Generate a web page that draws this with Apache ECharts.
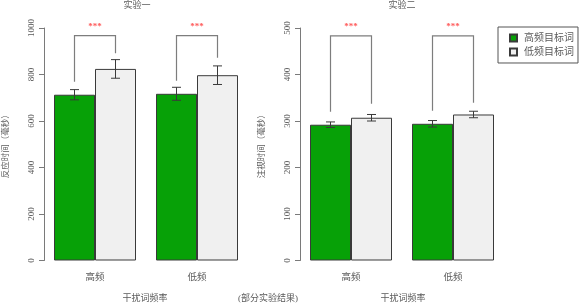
<!DOCTYPE html>
<html>
<head>
<meta charset="utf-8">
<script src="https://cdn.jsdelivr.net/npm/echarts@6/dist/echarts.min.js"></script>
<style>
  html, body { margin: 0; padding: 0; background: #fff; }
  #chart { width: 580px; height: 306px; }
</style>
</head>
<body>
<div id="chart"></div>
<script>
// Categories and tick settings
var categories = ['高频', '低频'];
var seriesNames = ['高频目标词', '低频目标词'];

// Experiment 1: response time (ms)
var exp1High = [713, 717];
var exp1Low = [824, 797];
var exp1HighErr = [22, 28];
var exp1LowErr = [40, 40];
var exp1BracketTop = [967, 967];
var exp1BracketLeftEnd = [769, 773];
var exp1BracketRightEnd = [891, 872];

// Experiment 2: fixation time (ms)
var exp2High = [292, 294];
var exp2Low = [307, 314];
var exp2HighErr = [6, 7];
var exp2LowErr = [7, 7];
var exp2BracketTop = [483, 483];
var exp2BracketLeftEnd = [320, 322];
var exp2BracketRightEnd = [337, 339];

var sigLabels = ['***', '***'];

var exp1Ticks = { min: 0, max: 1000, interval: 200 };
var exp2Ticks = { min: 0, max: 500, interval: 100 };

var GREEN = '#07a107';
var LIGHT = '#f0f0f0';
var BORDER = '#3a3a3a';
var TEXT = '#5a5a5a';
var AXIS = '#7a7a7a';
var FONT = "'Liberation Serif', 'Noto Sans CJK SC', serif";
var BAR_W = 41;

function errData(vals, errs) {
  return vals.map(function (v, i) { return [i, v - errs[i], v + errs[i]]; });
}
function bracketData(top, l, r) {
  return top.map(function (t, i) { return [i, t, l[i], r[i]]; });
}

// Error bar drawn at the bar centre; side = -1 for the left bar, +1 for the right bar
function errRenderer(side) {
  return function (params, api) {
    var i = api.value(0);
    var lo = api.coord([i, api.value(1)]);
    var hi = api.coord([i, api.value(2)]);
    var x = lo[0] + side * BAR_W / 2;
    var cap = 4.5;
    var st = { stroke: BORDER, lineWidth: 1 };
    return {
      type: 'group',
      children: [
        { type: 'line', shape: { x1: x, y1: lo[1], x2: x, y2: hi[1] }, style: st },
        { type: 'line', shape: { x1: x - cap, y1: lo[1], x2: x + cap, y2: lo[1] }, style: st },
        { type: 'line', shape: { x1: x - cap, y1: hi[1], x2: x + cap, y2: hi[1] }, style: st }
      ]
    };
  };
}

// Significance bracket spanning both bars of a group, with star label on top
function bracketRenderer(params, api) {
  var i = api.value(0);
  var top = api.coord([i, api.value(1)]);
  var le = api.coord([i, api.value(2)]);
  var re = api.coord([i, api.value(3)]);
  var xl = top[0] - BAR_W / 2;
  var xr = top[0] + BAR_W / 2;
  return {
    type: 'group',
    children: [
      {
        type: 'polyline',
        shape: { points: [[xl, le[1]], [xl, top[1]], [xr, top[1]], [xr, re[1]]] },
        style: { stroke: '#7d7d7d', lineWidth: 1.2, fill: null }
      },
      {
        type: 'text',
        x: top[0], y: top[1] - 9,
        style: {
          text: sigLabels[i], fill: '#ff5a5a', font: 'bold 9px ' + FONT,
          align: 'center', verticalAlign: 'middle'
        }
      }
    ]
  };
}

function yAxis(gridIndex, ticks, name) {
  return {
    type: 'value', gridIndex: gridIndex,
    min: ticks.min, max: ticks.max, interval: ticks.interval,
    name: name, nameLocation: 'middle', nameGap: 34, nameRotate: 90,
    nameTextStyle: { color: TEXT, fontSize: 8.5, fontFamily: FONT },
    axisLine: { show: true, lineStyle: { color: AXIS, width: 1 } },
    axisTick: { show: true, length: 5, lineStyle: { color: AXIS } },
    axisLabel: { rotate: 90, margin: 8, color: TEXT, fontSize: 9, fontFamily: FONT,
                 align: 'center', verticalAlign: 'bottom',
                 formatter: function (v) { return String(v); } },
    splitLine: { show: false }
  };
}

function xAxis(gridIndex) {
  return {
    type: 'category', gridIndex: gridIndex, data: categories,
    axisLine: { show: false }, axisTick: { show: false },
    axisLabel: { margin: 12, color: TEXT, fontSize: 9.5, fontFamily: FONT }
  };
}

function barSeries(name, idx, data, color) {
  return {
    name: name, type: 'bar', xAxisIndex: idx, yAxisIndex: idx,
    data: data, barWidth: BAR_W, barGap: '0%',
    itemStyle: { color: color, borderColor: BORDER, borderWidth: 1 },
    emphasis: { disabled: true }
  };
}

function caption(text, x, y, size) {
  return {
    type: 'text', x: x, y: y,
    style: { text: text, fill: TEXT, font: size + 'px ' + FONT, align: 'center', verticalAlign: 'middle' }
  };
}

var chart = echarts.init(document.getElementById('chart'), null, { renderer: 'canvas' });

chart.setOption({
  animation: false,
  backgroundColor: '#ffffff',
  textStyle: { fontFamily: FONT },
  grid: [
    { left: 44, width: 204, top: 28, bottom: 45.5, outerBoundsMode: 'none', containLabel: false },
    { left: 300, width: 204, top: 28, bottom: 45.5, outerBoundsMode: 'none', containLabel: false }
  ],
  xAxis: [xAxis(0), xAxis(1)],
  yAxis: [
    yAxis(0, exp1Ticks, '反应时间（毫秒）'),
    yAxis(1, exp2Ticks, '注视时间（毫秒）')
  ],
  legend: {
    orient: 'vertical', left: 498, top: 27,
    data: seriesNames,
    itemWidth: 7, itemHeight: 7, itemGap: 4,
    icon: 'rect',
    padding: [6, 4, 6, 11],
    borderColor: '#555', borderWidth: 1,
    textStyle: { color: TEXT, fontSize: 10, fontFamily: FONT, padding: [0, 0, 0, 2] }
  },
  graphic: [
    caption('实验一', 137, 6, 9),
    caption('实验二', 402, 6, 9),
    caption('干扰词频率', 145, 299, 9),
    caption('(部分实验结果)', 268, 299, 9),
    caption('干扰词频率', 403, 299, 9)
  ],
  series: [
    barSeries(seriesNames[0], 0, exp1High, GREEN),
    barSeries(seriesNames[1], 0, exp1Low, LIGHT),
    barSeries(seriesNames[0], 1, exp2High, GREEN),
    barSeries(seriesNames[1], 1, exp2Low, LIGHT),
    { type: 'custom', xAxisIndex: 0, yAxisIndex: 0, data: errData(exp1High, exp1HighErr), renderItem: errRenderer(-1), z: 5 },
    { type: 'custom', xAxisIndex: 0, yAxisIndex: 0, data: errData(exp1Low, exp1LowErr), renderItem: errRenderer(1), z: 5 },
    { type: 'custom', xAxisIndex: 1, yAxisIndex: 1, data: errData(exp2High, exp2HighErr), renderItem: errRenderer(-1), z: 5 },
    { type: 'custom', xAxisIndex: 1, yAxisIndex: 1, data: errData(exp2Low, exp2LowErr), renderItem: errRenderer(1), z: 5 },
    { type: 'custom', xAxisIndex: 0, yAxisIndex: 0, data: bracketData(exp1BracketTop, exp1BracketLeftEnd, exp1BracketRightEnd), renderItem: bracketRenderer, z: 5 },
    { type: 'custom', xAxisIndex: 1, yAxisIndex: 1, data: bracketData(exp2BracketTop, exp2BracketLeftEnd, exp2BracketRightEnd), renderItem: bracketRenderer, z: 5 }
  ]
});
</script>
</body>
</html>
